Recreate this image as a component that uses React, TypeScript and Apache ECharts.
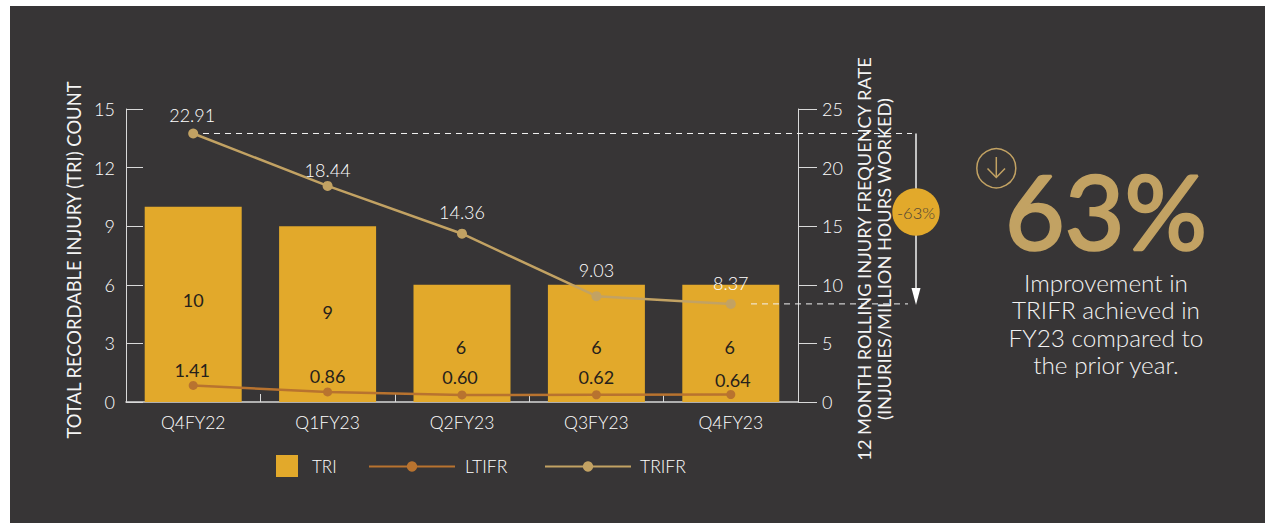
import React, { useEffect, useRef } from "react";
import * as echarts from "echarts";

const categories = ["Q4FY22", "Q1FY23", "Q2FY23", "Q3FY23", "Q4FY23"];
const triValues = [10, 9, 6, 6, 6];
const ltifrValues = [1.41, 0.86, 0.6, 0.62, 0.64];
const trifrValues = [22.91, 18.44, 14.36, 9.03, 8.37];
const ltifrTexts = ["1.41", "0.86", "0.60", "0.62", "0.64"];
const trifrTexts = ["22.91", "18.44", "14.36", "9.03", "8.37"];
const statementLines = ["Improvement in", "TRIFR achieved in", "FY23 compared to", "the prior year."];

const triOffsets = [[0, -4], [0, -2], [-1, 4], [0, 4], [-1, 4]];
const ltifrOffsets = [[-1, -15], [0, -16], [-2, -18], [0, -18], [2, -14]];
const trifrOffsets = [[-1, -18], [0, -16], [0, -22], [0, -26], [0, -21]];

const FONT = "Lato";
const GOLD = "#E2A92B";
const TAN = "#C2A263";
const COPPER = "#B8732F";
const AXIS = "#D9D9D9";
const TEXT = "#FFFFFF";
const DARK = "#26211B";
const THIN = 300;

export default function App() {
  const ref = useRef<HTMLDivElement>(null);
  useEffect(() => {
    const chart = echarts.init(ref.current!, null, { renderer: "svg" });
    const option: any = {
      animation: false,
      backgroundColor: "#FFFFFF",
      textStyle: { fontFamily: FONT },
      grid: { left: 126, right: 467, top: 109, bottom: 121, containLabel: false },
      legend: [
        { data: [{ name: "TRI", icon: "rect" }], left: 276, top: 455, itemWidth: 22, itemHeight: 22, itemGap: 0, padding: 0, textStyle: { color: TEXT, fontSize: 17, fontWeight: THIN, fontFamily: FONT, padding: [2, 0, 0, 9] } },
        { data: ["LTIFR"], left: 368, top: 457.5, itemWidth: 86, itemHeight: 13, padding: 0, textStyle: { color: TEXT, fontSize: 17.5, fontWeight: THIN, fontFamily: FONT, padding: [2, 0, 0, 5] } },
        { data: ["TRIFR"], left: 544, top: 457.5, itemWidth: 86, itemHeight: 13, padding: 0, textStyle: { color: TEXT, fontSize: 17.5, fontWeight: THIN, fontFamily: FONT, padding: [-1, 0, 0, 4] } },
      ],
      xAxis: {
        type: "category",
        data: categories,
        axisLine: { lineStyle: { color: AXIS, width: 1.5 } },
        axisTick: { show: true, inside: true, length: 8, alignWithLabel: false, lineStyle: { color: AXIS } },
        axisLabel: { color: TEXT, fontSize: 17.5, fontWeight: THIN, fontFamily: FONT, margin: 11 },
      },
      yAxis: [
        {
          type: "value",
          min: 0,
          max: 15,
          interval: 3,
          name: "TOTAL RECORDABLE INJURY (TRI) COUNT",
          nameLocation: "middle",
          nameRotate: 90,
          nameGap: 43,
          nameTextStyle: { color: "#F4F4F4", fontSize: 18.4, fontFamily: FONT, padding: [0, 9, 0, 0] },
          axisLine: { show: true, lineStyle: { color: AXIS } },
          axisTick: { show: true, inside: true, length: 17, lineStyle: { color: AXIS } },
          axisLabel: { color: TEXT, fontSize: 18, fontWeight: THIN, fontFamily: FONT, margin: 11 },
          splitLine: { show: false },
        },
        {
          type: "value",
          min: 0,
          max: 25,
          interval: 5,
          position: "right",
          name: "12 MONTH ROLLING INJURY FREQUENCY RATE\n(INJURIES/MILLION HOURS WORKED)",
          nameLocation: "middle",
          nameRotate: 90,
          nameGap: 49,
          nameTextStyle: { color: "#F4F4F4", fontSize: 18.2, lineHeight: 20, fontFamily: FONT, padding: [0, 7, 0, 0] },
          axisLine: { show: true, lineStyle: { color: AXIS } },
          axisTick: { show: true, inside: false, length: 19, lineStyle: { color: AXIS } },
          axisLabel: { color: TEXT, fontSize: 18, fontWeight: THIN, fontFamily: FONT, margin: 24, padding: [4, 0, 0, 0] },
          splitLine: { show: false },
        },
      ],
      series: [
        {
          name: "TRI",
          type: "bar",
          yAxisIndex: 0,
          barWidth: 97,
          itemStyle: { color: GOLD },
          z: 1,
          data: triValues.map((v, i) => ({
            value: v,
            label: { show: true, position: "inside", offset: triOffsets[i], formatter: String(v), color: DARK, fontSize: 18, fontFamily: FONT },
          })),
        },
        {
          name: "LTIFR",
          type: "line",
          yAxisIndex: 1,
          symbol: "circle",
          symbolSize: 9,
          lineStyle: { color: COPPER, width: 2.5 },
          itemStyle: { color: COPPER },
          z: 3,
          data: ltifrValues.map((v, i) => ({
            value: v,
            label: { show: true, position: "inside", offset: ltifrOffsets[i], formatter: ltifrTexts[i], color: DARK, fontSize: 18, fontFamily: FONT },
          })),
        },
        {
          name: "TRIFR",
          type: "line",
          yAxisIndex: 1,
          symbol: "circle",
          symbolSize: 10,
          lineStyle: { color: TAN, width: 2.5 },
          itemStyle: { color: TAN },
          z: 3,
          data: trifrValues.map((v, i) => ({
            value: v,
            label: { show: true, position: "inside", offset: trifrOffsets[i], formatter: trifrTexts[i], color: "#FFFFFF", fontSize: 18, fontWeight: THIN, fontFamily: FONT },
          })),
        },
      ],
    };
    chart.setOption(option);

    const yTop = chart.convertToPixel({ yAxisIndex: 1 }, trifrValues[0]) as number;
    const yEnd = chart.convertToPixel({ yAxisIndex: 1 }, trifrValues[4]) as number;
    const dash = { stroke: "#F2F2F2", lineWidth: 1, lineDash: [6, 5] };

    chart.setOption({
      graphic: [
        { type: "rect", z: -10, silent: true, shape: { x: 10, y: 6, width: 1255, height: 517 }, style: { fill: "#373536" } },
        { type: "line", z: 5, shape: { x1: 203, y1: yTop, x2: 912, y2: yTop }, style: dash },
        { type: "line", z: 5, shape: { x1: 751, y1: yEnd, x2: 908, y2: yEnd }, style: dash },
        { type: "line", z: 5, shape: { x1: 916, y1: yTop, x2: 916, y2: yEnd - 10 }, style: { stroke: "#F2F2F2", lineWidth: 1.5 } },
        { type: "polygon", z: 5, shape: { points: [[911.5, 288], [920.5, 288], [916, yEnd + 1]] }, style: { fill: "#FFFFFF" } },
        { type: "circle", z: 6, shape: { cx: 916, cy: 212, r: 23.7 }, style: { fill: GOLD } },
        { type: "text", z: 7, x: 916, y: 213, style: { text: "-63%", fill: "#4A4236", fontSize: 16.5, fontWeight: THIN, fontFamily: FONT, align: "center", verticalAlign: "middle" } },
        { type: "circle", z: 5, shape: { cx: 996.3, cy: 168.3, r: 19.5 }, style: { fill: "transparent", stroke: TAN, lineWidth: 1.5 } },
        { type: "line", z: 5, shape: { x1: 996.3, y1: 157, x2: 996.3, y2: 177 }, style: { stroke: TAN, lineWidth: 1.5 } },
        { type: "polyline", z: 5, shape: { points: [[987.5, 168.5], [996.3, 177.5], [1005, 168.5]] }, style: { stroke: TAN, lineWidth: 1.5, fill: "transparent" } },
        { type: "text", z: 5, x: 1106, y: 210, style: { text: "63%", fill: TAN, stroke: TAN, lineWidth: 2.5, fontSize: 103, fontFamily: FONT, fontWeight: 400, align: "center", verticalAlign: "middle" } },
        ...statementLines.map((t, i) => ({
          type: "text",
          z: 5,
          x: 1106,
          y: 282 + i * 27.6,
          style: { text: t, fill: "#F2F2F2", fontSize: 24.3, lineHeight: 26, fontWeight: THIN, fontFamily: FONT, align: "center", verticalAlign: "middle" },
        })),
      ],
    });
    return () => chart.dispose();
  }, []);
  return <div ref={ref} style={{ position: "fixed", left: 0, top: 0, width: 1265, height: 523 }} />;
}
